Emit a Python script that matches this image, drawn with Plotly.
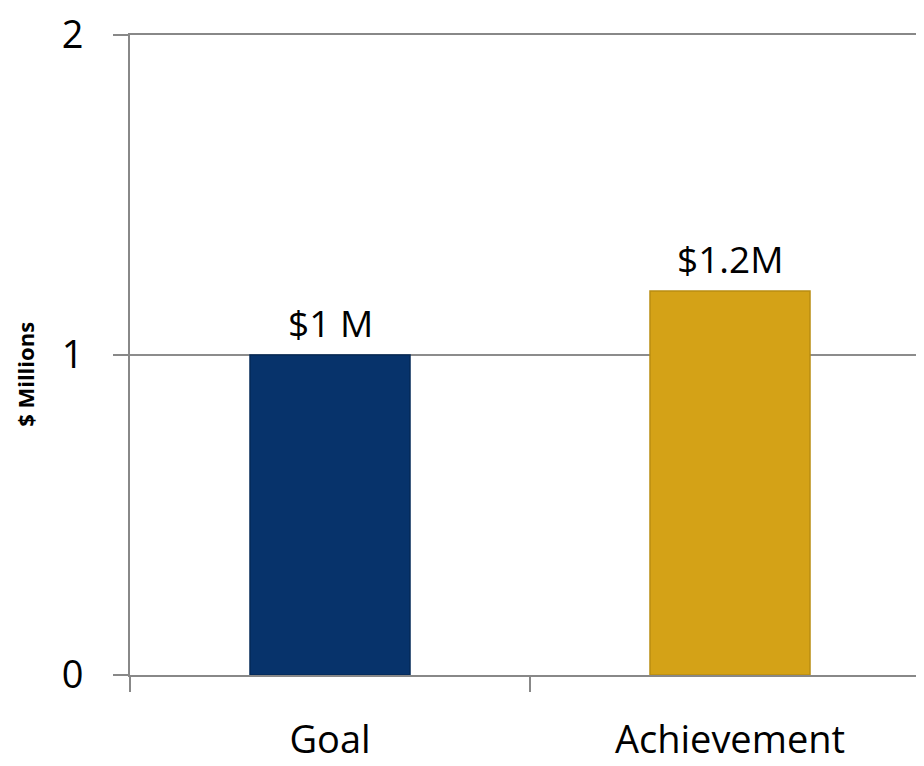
import plotly.graph_objects as go

categories = ["Goal", "Achievement"]
values = [1.0, 1.2]
value_labels = ["$1 M", "$1.2M"]
bar_colors = ["#07336B", "#D4A217"]
bar_edges = ["#052a58", "#b98d12"]
y_ticks = [0, 1, 2]

fig = go.Figure()
fig.add_trace(go.Bar(
    x=categories,
    y=values,
    width=0.4,
    marker=dict(color=bar_colors, line=dict(color=bar_edges, width=1.5)),
    hoverinfo="skip",
))

for cat, val, lab in zip(categories, values, value_labels):
    fig.add_annotation(
        x=cat, y=val, text=lab, showarrow=False,
        xanchor="center", yanchor="bottom", yshift=5,
        font=dict(family="Open Sans", size=37, color="#000000"),
    )

fig.add_annotation(
    xref="paper", yref="paper", x=0, y=0.469, xshift=-105,
    text="<b>$ Millions</b>", textangle=-90, showarrow=False,
    xanchor="center", yanchor="middle",
    font=dict(family="Open Sans", size=22, color="#000000"),
)

fig.update_layout(
    width=916,
    height=758,
    margin=dict(l=122, r=0, t=27, b=91, autoexpand=False),
    paper_bgcolor="white",
    plot_bgcolor="white",
    showlegend=False,
    font=dict(family="Open Sans", color="#000000"),
)

fig.update_xaxes(
    automargin=False,
    range=[-0.5, 1.485],
    tickson="boundaries",
    ticks="outside",
    ticklen=15,
    tickwidth=2,
    tickcolor="#888888",
    showline=True,
    mirror=True,
    linecolor="#888888",
    linewidth=2,
    showgrid=False,
    tickfont=dict(family="Open Sans", size=38, color="#000000"),
    ticklabelstandoff=30,
    ticklabeloverflow="allow",
)

fig.update_yaxes(
    automargin=False,
    range=[0, 2],
    tickvals=y_ticks,
    ticks="outside",
    ticklen=15,
    tickwidth=2,
    tickcolor="#888888",
    showline=True,
    linecolor="#888888",
    linewidth=2,
    showgrid=True,
    gridcolor="#8C8C8C",
    gridwidth=1.5,
    zeroline=False,
    tickfont=dict(family="Open Sans", size=38, color="#000000"),
    ticklabelstandoff=22,
    ticklabeloverflow="allow",
)

fig.write_html("out.html")
